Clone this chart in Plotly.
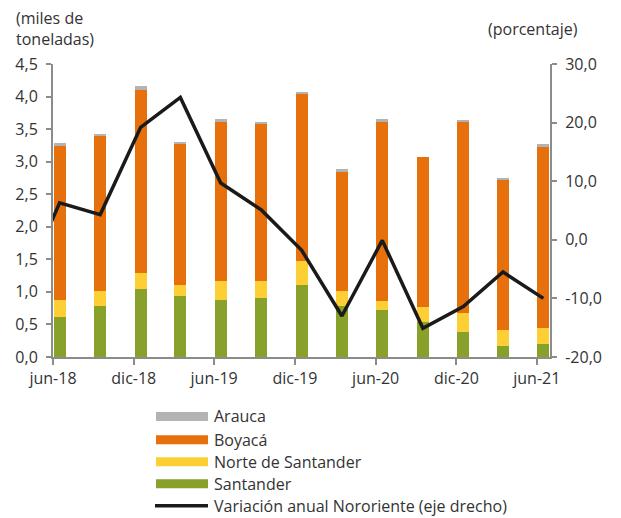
import plotly.graph_objects as go

# ---- data ----
periods = ["2018-06", "2018-09", "2018-12", "2019-03", "2019-06", "2019-09", "2019-12",
           "2020-03", "2020-06", "2020-09", "2020-12", "2021-03", "2021-06"]
santander = [0.62, 0.78, 1.05, 0.93, 0.87, 0.90, 1.11, 0.78, 0.715, 0.53, 0.38, 0.165, 0.195]
norte_santander = [0.25, 0.24, 0.245, 0.18, 0.30, 0.27, 0.37, 0.24, 0.15, 0.245, 0.30, 0.245, 0.245]
boyaca = [2.37, 2.38, 2.805, 2.16, 2.445, 2.41, 2.56, 1.83, 2.75, 2.29, 2.93, 2.315, 2.80]
arauca = [0.04, 0.03, 0.06, 0.035, 0.035, 0.03, 0.03, 0.03, 0.035, 0.0, 0.035, 0.03, 0.03]

line_periods = ["2018-03"] + periods
variacion = [-9.6, 6.3, 4.3, 19.2, 24.3, 9.7, 5.1, -1.8, -13.0, -0.1, -15.1, -11.4, -5.5, -10.0]

x_tickvals = ["2018-06-01", "2018-12-01", "2019-06-01", "2019-12-01", "2020-06-01", "2020-12-01", "2021-06-01"]
x_ticktext = ["jun-18", "dic-18", "jun-19", "dic-19", "jun-20", "dic-20", "jun-21"]
y_tickvals = [0, 0.5, 1.0, 1.5, 2.0, 2.5, 3.0, 3.5, 4.0, 4.5]
y_ticktext = ["0,0", "0,5", "1,0", "1,5", "2,0", "2,5", "3,0", "3,5", "4,0", "4,5"]
y2_tickvals = [-20, -10, 0, 10, 20, 30]
y2_ticktext = ["-20,0", "-10,0", "0,0", "10,0", "20,0", "30,0"]

names = ["Arauca", "Boyacá", "Norte de Santander", "Santander", "Variación anual Nororiente (eje drecho)"]
colors = ["#B3B3B3", "#E5700C", "#FDCF35", "#88A12A", "#1A1A1A"]

FONT = "Open Sans"
FS = 16
TXT = "#333333"
AX = "#8C8C8C"

fig = go.Figure()
bar_width_ms = 0.9 * 30.44 * 24 * 3600 * 1000
stack = [(santander, names[3], colors[3]), (norte_santander, names[2], colors[2]),
         (boyaca, names[1], colors[1]), (arauca, names[0], colors[0])]
for vals, nm, col in stack:
    fig.add_trace(go.Bar(
        x=[p + "-01" for p in periods], y=vals, name=nm, marker_color=col,
        marker_line_width=0, width=bar_width_ms,
        xperiod="M1", xperiodalignment="middle", showlegend=False))

fig.add_trace(go.Scatter(
    x=[p + "-01" for p in line_periods], y=variacion, name=names[4], yaxis="y2",
    mode="lines", line=dict(color=colors[4], width=3.5),
    xperiod="M1", xperiodalignment="middle", showlegend=False))

# manual legend (wide swatches as in the reference)
PL, PB, PW, PH = 53, 357.5, 497, 293.5
def px(x):
    return (x - PL) / PW
def py(y):
    return (PB - y) / PH

shapes = []
annotations = []
leg_y = [417, 440.5, 462.5, 484.5, 506.5]
for i, (nm, col) in enumerate(zip(names, colors)):
    yc = leg_y[i]
    if i < 4:
        shapes.append(dict(type="rect", xref="paper", yref="paper",
                           x0=px(156), x1=px(208), y0=py(yc + 4.5), y1=py(yc - 4.5),
                           fillcolor=col, line_width=0))
    else:
        shapes.append(dict(type="line", xref="paper", yref="paper",
                           x0=px(155), x1=px(208), y0=py(yc), y1=py(yc),
                           line=dict(color=col, width=3.5)))
    annotations.append(dict(text=nm, xref="paper", yref="paper",
                            x=px(212), y=py(yc),
                            xanchor="left", yanchor="middle", showarrow=False,
                            font=dict(family=FONT, size=FS, color=TXT)))

annotations.append(dict(text="(miles de<br>toneladas)", xref="paper", yref="paper",
                        x=px(14), y=py(5), xanchor="left", yanchor="top",
                        align="left", showarrow=False,
                        font=dict(family=FONT, size=FS, color=TXT)))
annotations.append(dict(text="(porcentaje)", xref="paper", yref="paper",
                        x=px(486), y=py(29), xanchor="left", yanchor="middle",
                        showarrow=False, font=dict(family=FONT, size=FS, color=TXT)))

fig.update_layout(
    barmode="stack",
    width=621, height=518,
    margin=dict(l=PL, r=621 - PL - PW, t=PB - PH, b=518 - PB),
    paper_bgcolor="white", plot_bgcolor="white",
    font=dict(family=FONT, size=FS, color=TXT),
    xaxis=dict(type="date", range=["2018-06-01", "2021-07-01"],
               tickvals=x_tickvals, ticktext=x_ticktext,
               showgrid=False, zeroline=False, showline=True, linecolor=AX, linewidth=2,
               ticks="outside", ticklen=6, tickcolor=AX, tickwidth=1.5,
               tickfont=dict(family=FONT, size=FS, color=TXT)),
    yaxis=dict(range=[0, 4.5], tickvals=y_tickvals, ticktext=y_ticktext,
               showgrid=False, zeroline=False, showline=True, linecolor=AX, linewidth=2,
               ticks="outside", ticklen=5, tickcolor=AX, tickwidth=1.5,
               ticklabelstandoff=5,
               tickfont=dict(family=FONT, size=FS, color=TXT)),
    yaxis2=dict(range=[-20, 30], tickvals=y2_tickvals, ticktext=y2_ticktext,
                overlaying="y", side="right",
                showgrid=False, zeroline=False, showline=True, linecolor=AX, linewidth=2,
                ticks="outside", ticklen=5, tickcolor=AX, tickwidth=1.5,
                ticklabelstandoff=5,
                tickfont=dict(family=FONT, size=FS, color=TXT)),
    shapes=shapes, annotations=annotations,
    showlegend=False,
)

fig.write_html("out.html", config={"displayModeBar": False},
               post_script="document.body.style.margin='0';document.body.style.overflow='hidden';")
